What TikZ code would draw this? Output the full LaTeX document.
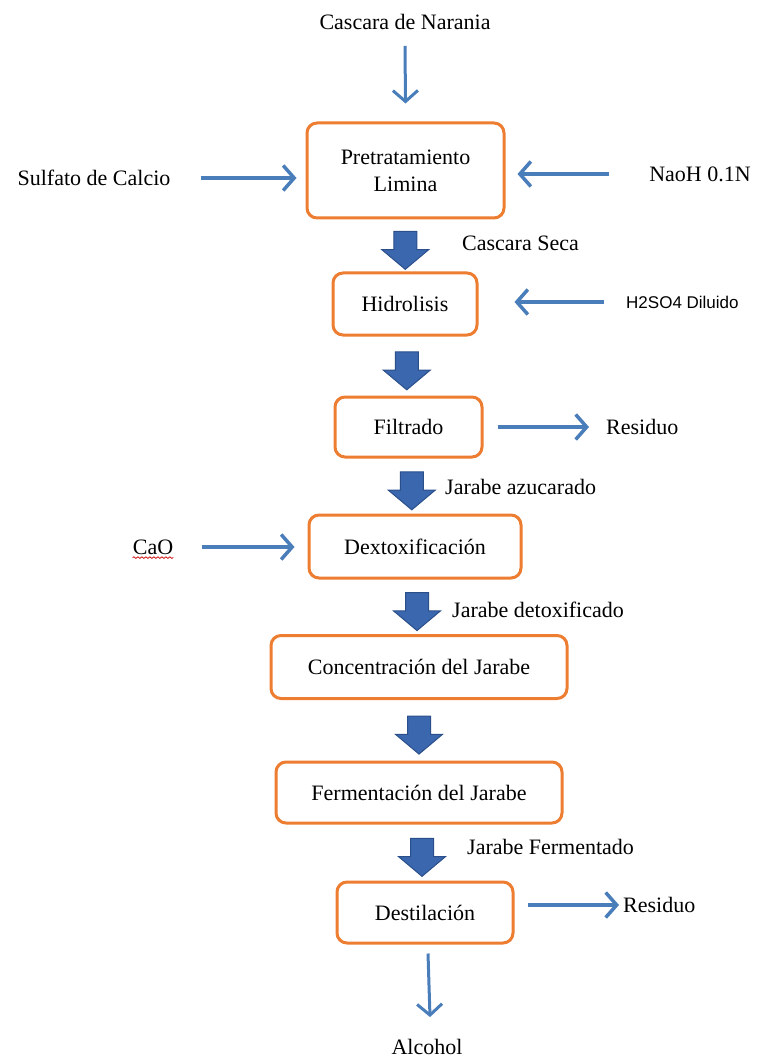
\documentclass[tikz,border=0pt]{standalone}
\usepackage{fontspec}
\setmainfont{Liberation Serif}
\newfontfamily\labelsans{Liberation Sans}
\usetikzlibrary{arrows.meta,shapes.arrows,calc,decorations.pathmorphing}
\definecolor{boxstroke}{HTML}{ED7D31}
\definecolor{flowblue}{HTML}{4A7EBB}
\definecolor{blkfill}{HTML}{3A67AE}
\definecolor{blkstroke}{HTML}{2B4F8A}
\definecolor{squiggle}{HTML}{D01010}

\begin{document}
\begin{tikzpicture}[
    x=1pt, y=-1pt,
    txt/.style={font=\fontsize{22}{27}\selectfont, inner sep=0pt},
    sanstxt/.style={font=\fontsize{17}{20}\selectfont\labelsans, inner sep=0pt},
    stage/.style={draw=boxstroke, line width=3pt, rounded corners=10pt, fill=white,
                  align=center, font=\fontsize{22}{27}\selectfont, inner sep=0pt},
    flow/.style={draw=flowblue, line width=3.5pt, -{Straight Barb[length=11pt,width=25pt]}},
    vflow/.style={flow, line width=3pt},
    blk/.style={single arrow, draw=blkstroke, fill=blkfill, line width=1pt, rotate=-90,
                minimum height=38pt, minimum width=46pt, single arrow head extend=12pt,
                single arrow tip angle=100, inner sep=11pt},
]
\useasboundingbox (0,0) rectangle (767,1064);

% ---- main column ------------------------------------------------------------
\node[txt] (src) at (405,22) {Cascara de Narania};
\node[stage, minimum width=197pt, minimum height=95pt] (pre) at (405.5,170.5) {Pretratamiento\\Limina};
\node[stage, minimum width=144pt, minimum height=62pt] (hid) at (405,304)   {Hidrolisis};
\node[stage, minimum width=147pt, minimum height=60pt] (fil) at (408.5,427) {Filtrado};
\node[stage, minimum width=212pt, minimum height=63pt] (dex) at (415,546.5) {Dextoxificación};
\node[stage, minimum width=296pt, minimum height=63pt] (con) at (419,667)   {Concentración del Jarabe};
\node[stage, minimum width=286pt, minimum height=61pt] (fer) at (419,792.5) {Fermentación del Jarabe};
\node[stage, minimum width=176pt, minimum height=61pt] (des) at (425,912.5) {Destilación};
\node[txt] (alc) at (427,1047) {Alcohol};

% ---- block arrows between stages ---------------------------------------------
\node[blk] (ba1) at ($(pre.south)!0.5!(hid.north)$) {};
\node[blk] (ba2) at ($(hid.south)!0.5!(fil.north)$) {};
\node[blk] (ba3) at ($(fil.south)!0.5!(dex.north)$) {};
\node[blk] (ba4) at ($(dex.south)!0.5!(con.north)$) {};
\node[blk] (ba5) at ($(con.south)!0.5!(fer.north)$) {};
\node[blk] (ba6) at ($(fer.south)!0.5!(des.north)$) {};

\node[txt, anchor=west] (seca)  at (462,243) {Cascara Seca};
\node[txt, anchor=west] (azuc)  at (445,487) {Jarabe azucarado};
\node[txt, anchor=west] (detox) at (452,610) {Jarabe detoxificado};
\node[txt, anchor=west] (ferm)  at (467,847) {Jarabe Fermentado};

% ---- side inputs and outputs ----------------------------------------------------
\node[txt] (sulf) at (94,178) {Sulfato de Calcio};
\node[txt] (naoh) at (700,174) {NaoH 0.1N};
\node[sanstxt, anchor=west] (acid) at (626,302) {H2SO4 Diluido};
\node[txt, anchor=west] (res1) at (606,427) {Residuo};
\node[txt] (cao) at (153,547) {CaO};
\node[txt, anchor=west] (res2) at (623,905) {Residuo};

\draw[squiggle, line width=0.8pt, decorate, decoration={snake, amplitude=0.8pt, segment length=4pt}]
    ([yshift=-3pt]cao.south west) -- ([yshift=-3pt]cao.south east);

% ---- connectors ----------------------------------------------------------------
\draw[vflow] ([yshift=-16pt]src.south) -- ([yshift=18pt]pre.north);
\draw[flow] ([xshift=30pt]sulf.east) -- ([xshift=-9pt]pre.west |- sulf.east);
\draw[flow] ([xshift=-40pt]naoh.west) -- ([xshift=12pt]pre.east |- naoh.west);
\draw[flow] ([xshift=-22pt]acid.west) -- ([xshift=36pt]hid.east |- acid.west);
\draw[flow] ([xshift=14pt]fil.east) -- ([xshift=-17pt]res1.west);
\draw[flow] ([xshift=29pt]cao.east) -- ([xshift=-13pt]dex.west |- cao.east);
\draw[flow] ([xshift=13pt]des.east |- res2.west) -- ([xshift=-4pt]res2.west);
\draw[vflow] ([xshift=3pt,yshift=-9pt]des.south) -- ([xshift=3pt,yshift=22pt]alc.north);

\end{tikzpicture}
\end{document}
